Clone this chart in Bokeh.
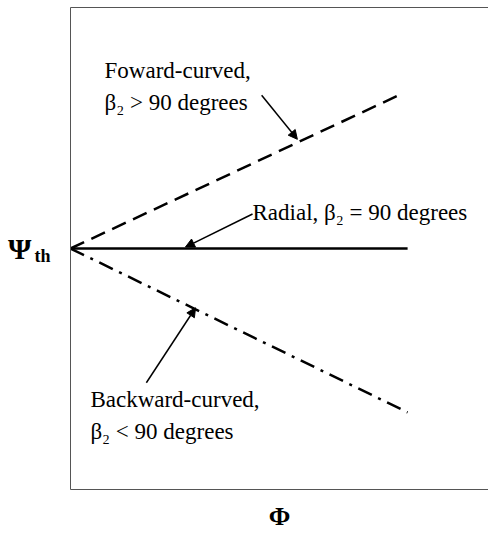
from bokeh.plotting import figure
from bokeh.models import Range1d, LinearAxis, FixedTicker, Label, Arrow, NormalHead
from bokeh.embed import file_html
from bokeh.resources import INLINE

# Flow coefficient (Phi) vs. theoretical head coefficient (Psi_th) for the three blade types
phi_forward = [0.0, 0.98]
psi_forward = [1.0, 1.64]
phi_radial = [0.0, 1.0]
psi_radial = [1.0, 1.0]
phi_backward = [0.0, 1.0]
psi_backward = [1.0, 0.32]

forward_lines = ["Foward-curved,", "β₂ > 90 degrees"]
radial_text = "Radial, β₂ = 90 degrees"
backward_lines = ["Backward-curved,", "β₂ < 90 degrees"]

SERIF = "Liberation Serif"
FRAME = "#555555"

p = figure(width=488, height=533, x_range=Range1d(0, 1.24), y_range=Range1d(0, 2.0),
           output_backend="svg", toolbar_location=None,
           min_border_left=70, min_border_right=0, min_border_top=7, min_border_bottom=43)
p.outline_line_color = None
p.grid.visible = False
p.background_fill_color = "white"
p.border_fill_color = "white"

top_axis = LinearAxis()
p.add_layout(top_axis, "above")
for ax in p.axis:
    ax.ticker = FixedTicker(ticks=[])
    ax.major_tick_line_color = None
    ax.minor_tick_line_color = None
    ax.major_label_text_font_size = "0px"
    ax.axis_line_color = FRAME
    ax.axis_line_width = 1

# x axis symbol on the bottom axis
xa = p.below[0]
xa.axis_label = "Φ"
xa.axis_label_text_font = SERIF
xa.axis_label_text_font_style = "bold"
xa.axis_label_text_font_size = "26px"
xa.axis_label_text_color = "black"
xa.axis_label_standoff = 12

# y axis symbol: "Psi" as the axis label, subscript "th" as a tick label beside it
ya = p.left[0]
ya.ticker = FixedTicker(ticks=[0.97])
ya.major_label_overrides = {0.97: "th"}
ya.major_label_text_font = SERIF
ya.major_label_text_font_style = "bold"
ya.major_label_text_font_size = "18px"
ya.major_label_text_color = "black"
ya.major_label_standoff = 20
ya.major_tick_in = 0
ya.major_tick_out = 0
ya.axis_label = "Ψ"
ya.axis_label_orientation = "horizontal"
ya.axis_label_text_font = SERIF
ya.axis_label_text_font_style = "bold"
ya.axis_label_text_font_size = "30px"
ya.axis_label_text_color = "black"
ya.axis_label_standoff = 0

# the three characteristic lines
p.line(phi_forward, psi_forward, line_color="black", line_width=2.5, line_dash="15 8")
p.line(phi_radial, psi_radial, line_color="black", line_width=2.5)
p.line(phi_backward, psi_backward, line_color="black", line_width=2.5, line_dash="15 7 3 7")

def label(x, y, text, size="23px"):
    p.add_layout(Label(x=x, y=y, text=text, text_font=SERIF, text_font_size=size,
                       text_align="left", text_baseline="middle", text_color="black"))

label(0.101, 1.739, forward_lines[0])
label(0.101, 1.607, forward_lines[1])
label(0.54, 1.151, radial_text)
label(0.059, 0.373, backward_lines[0])
label(0.059, 0.240, backward_lines[1])

# callout arrows
for (xs, ys, xe, ye) in [(0.567, 1.636, 0.673, 1.453),
                         (0.540, 1.143, 0.341, 1.006),
                         (0.225, 0.443, 0.371, 0.754)]:
    p.add_layout(Arrow(x_start=xs, y_start=ys, x_end=xe, y_end=ye,
                       line_color="black", line_width=1.5,
                       end=NormalHead(size=9, fill_color="black", line_color="black")))

open("out.html", "w").write(file_html(p, INLINE))
